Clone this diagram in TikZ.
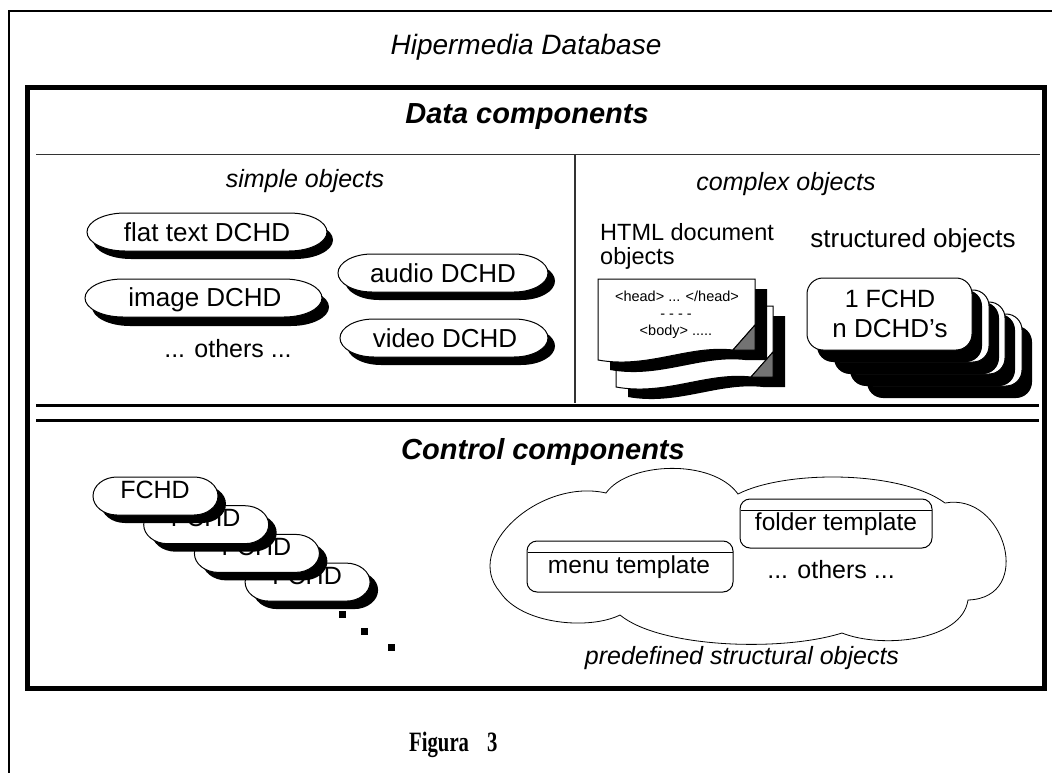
\documentclass[tikz,border=0pt]{standalone}
\usepackage{graphicx}
\usepackage{fontspec}
\setmainfont{Liberation Sans}
\newfontfamily\timesf{Liberation Serif}
\tikzset{
  txt/.style={inner sep=0pt, anchor=base, font=\fontsize{25}{30}\selectfont},
  itxt/.style={inner sep=0pt, anchor=base, font=\fontsize{25}{30}\selectfont\itshape},
  btxt/.style={inner sep=0pt, anchor=base, font=\fontsize{29}{34}\selectfont\bfseries\itshape},
  smalltxt/.style={inner sep=0pt, anchor=base, font=\fontsize{14.5}{17}\selectfont},
  outline/.style={draw=black, line width=1pt},
}
% pill with elliptic ends: #1 left, #2 top, #3 right, #4 bottom, #5 end length
\newcommand{\pillpath}[5]{(#1,{(#2+#4)/2})
 .. controls (#1,{(#2+#4)/2-0.276*(#4-#2)}) and ({#1+0.448*#5},#2) .. ({#1+#5},#2)
 -- ({#3-#5},#2)
 .. controls ({#3-0.448*#5},#2) and (#3,{(#2+#4)/2-0.276*(#4-#2)}) .. (#3,{(#2+#4)/2})
 .. controls (#3,{(#2+#4)/2+0.276*(#4-#2)}) and ({#3-0.448*#5},#4) .. ({#3-#5},#4)
 -- ({#1+#5},#4)
 .. controls ({#1+0.448*#5},#4) and (#1,{(#2+#4)/2+0.276*(#4-#2)}) .. (#1,{(#2+#4)/2}) -- cycle}
\newcommand{\Pill}[7]{% l t r b L dx dy
  \fill[black] [shift={(#6,#7)}] \pillpath{#1}{#2}{#3}{#4}{#5};
  \filldraw[fill=white, outline] \pillpath{#1}{#2}{#3}{#4}{#5};}
% html page at (x,y)
\newcommand{\pagepath}[2]{(#1,#2) -- ({#1+157},#2) -- ({#1+157},{#2+46}) -- ({#1+135},{#2+71}) .. controls ({#1+90},{#2+66}) and ({#1+50},{#2+90}) .. (#1,{#2+81}) -- cycle}
\newcommand{\Page}[2]{%
  \fill[black] [shift={(12,10)}] (#1,#2) -- ({#1+157},#2) -- ({#1+157},{#2+71}) -- ({#1+135},{#2+71}) .. controls ({#1+90},{#2+66}) and ({#1+50},{#2+90}) .. (#1,{#2+81}) -- cycle;
  \filldraw[fill=white, outline] \pagepath{#1}{#2};
  \filldraw[fill=black!55, outline] ({#1+157},{#2+46}) -- ({#1+157},{#2+71}) -- ({#1+135},{#2+71}) -- cycle;}
\newcommand{\Card}[2]{%
  \fill[black, rounded corners=16pt] ({#1+10},{#2+12}) rectangle ({#1+175},{#2+84});
  \filldraw[fill=white, outline, rounded corners=16pt] (#1,#2) rectangle ({#1+165},{#2+72});}
\begin{document}
\begin{tikzpicture}[x=1pt,y=-1pt]
\useasboundingbox (0,0) rectangle (1052,773);
\fill[white] (0,0) rectangle (1052,773);
% outer frame
\coordinate (ofb) at (8.5,773);
\coordinate (oft) at (8.5,11);
\coordinate (ofr) at (1052,11);
\draw[line width=2pt] (ofb) -- (oft) -- (ofr);
% inner box
\draw[line width=5pt] (27.5,87.5) rectangle (1044.5,688);
% dividers
\coordinate (d1l) at (36,155); \coordinate (d1r) at (1040,155);
\draw[line width=1pt, black!80] (d1l) -- (d1r);
\coordinate (vt) at (575,155); \coordinate (vb) at (575,403);
\draw[line width=1.5pt, black!80] (vt) -- (vb);
\coordinate (dl1) at (36,405.5); \coordinate (dr1) at (1039,405.5);
\coordinate (dl2) at (36,420.5); \coordinate (dr2) at (1039,420.5);
\draw[line width=3pt] (dl1) -- (dr1);
\draw[line width=2.5pt] (dl2) -- (dr2);

% titles
\node[itxt, font=\fontsize{28}{33}\selectfont\itshape] (title) at (526,55) {Hipermedia Database};
\node[btxt] (data) at (527,124) {Data components};
\node[itxt] (simple) at (305,187) {simple objects};
\node[itxt] (complex) at (786,190) {complex objects};
\node[btxt] (control) at (543,459) {Control components};

% simple objects pills
\Pill{87}{213}{327}{251}{38}{6}{8}
\node[txt, font=\fontsize{26}{30}\selectfont] (flat) at (207,241) {flat text DCHD};
\Pill{85}{279}{322}{317}{38}{7}{9}
\node[txt, font=\fontsize{26}{30}\selectfont] (image) at (205,306) {image DCHD};
\node[txt] (others1) at (228,357) {... others ...};
\Pill{338}{254}{548}{292}{34}{7}{8}
\node[txt, font=\fontsize{26}{30}\selectfont] (audio) at (443,282) {audio DCHD};
\Pill{340}{319}{548}{357}{34}{7}{8}
\node[txt, font=\fontsize{26}{30}\selectfont] (video) at (445,347) {video DCHD};

% HTML pages
\node[txt, anchor=base west, font=\fontsize{23.5}{27}\selectfont] (html1) at (600,240) {HTML document};
\node[txt, anchor=base west, font=\fontsize{23.5}{27}\selectfont] (html2) at (600,264) {objects};
\Page{616}{306}
\Page{598}{279}
\node[smalltxt] (h1) at (677,301) {<head> ... </head>};
\node[smalltxt] (h2) at (676,318) {- - - -};
\node[smalltxt] (h3) at (676,335) {<body> .....};

% structured objects
\node[txt, font=\fontsize{26}{30}\selectfont] (struct) at (913,247) {structured objects};
\Card{857}{314}
\Card{840}{302}
\Card{824}{290}
\Card{807}{278}
\node[txt] (c1) at (890,307) {1 FCHD};
\node[txt, font=\fontsize{26}{30}\selectfont] (c2) at (890,337) {n DCHD's};

% control FCHD pills
\foreach \i in {3,2,1,0} {
  \pgfmathsetmacro{\dx}{50.7*\i}
  \pgfmathsetmacro{\dy}{28.7*\i}
  \begin{scope}[shift={(\dx,\dy)}]
    \Pill{93}{477}{218}{515}{24}{8}{8}
    \node[txt] (f\i) at (155,498) {FCHD};
  \end{scope}
}
\foreach \p [count=\k] in {(342,614),(364,631),(391,647)} {
  \fill[black] \p ++(-3.5,-3.5) rectangle ++(7,7);
}

% cloud
\coordinate (cA) at (500,592);
\coordinate (cB) at (606,493);
\coordinate (cC) at (738,494);
\coordinate (cD) at (945,503);
\coordinate (cE) at (968,600);
\coordinate (cF) at (842,633);
\coordinate (cG) at (620,615);
\draw[line width=0.8pt]
 (cA) .. controls (462,548) and (540,478) .. (cB)
      .. controls (628,462) and (712,458) .. (cC)
      .. controls (785,470) and (900,470) .. (cD)
      .. controls (1005,492) and (1035,598) .. (cE)
      .. controls (962,641) and (882,649) .. (cF)
      .. controls (782,652) and (660,648) .. (cG)
      .. controls (590,630) and (522,625) .. (cA) -- cycle;
% templates
\filldraw[fill=white, outline, rounded corners=10pt] (527,541) rectangle (733,592);
\coordinate (mh1) at (527.5,552); \coordinate (mh2) at (732.5,552);
\draw[line width=1pt] (mh1) -- (mh2);
\node[txt, font=\fontsize{24.5}{29}\selectfont] (menu) at (629,573) {menu template};
\filldraw[fill=white, outline, rounded corners=10pt] (740,499) rectangle (932,548);
\coordinate (fh1) at (740.5,510); \coordinate (fh2) at (931.5,510);
\draw[line width=1pt] (fh1) -- (fh2);
\node[txt, font=\fontsize{24.5}{29}\selectfont] (folder) at (836,530) {folder template};
\node[txt] (others2) at (831,578) {... others ...};
\node[itxt] (predef) at (742,664) {predefined structural objects};

% caption
\node[inner sep=0pt, anchor=base west, font=\timesf\bfseries\fontsize{28}{30}\selectfont] (fig) at (409,751) {\scalebox{0.74}[1]{Figura}};
\node[inner sep=0pt, anchor=base west, font=\timesf\bfseries\fontsize{28}{30}\selectfont] (num) at (487,751) {\scalebox{0.74}[1]{3}};
\end{tikzpicture}
\end{document}
